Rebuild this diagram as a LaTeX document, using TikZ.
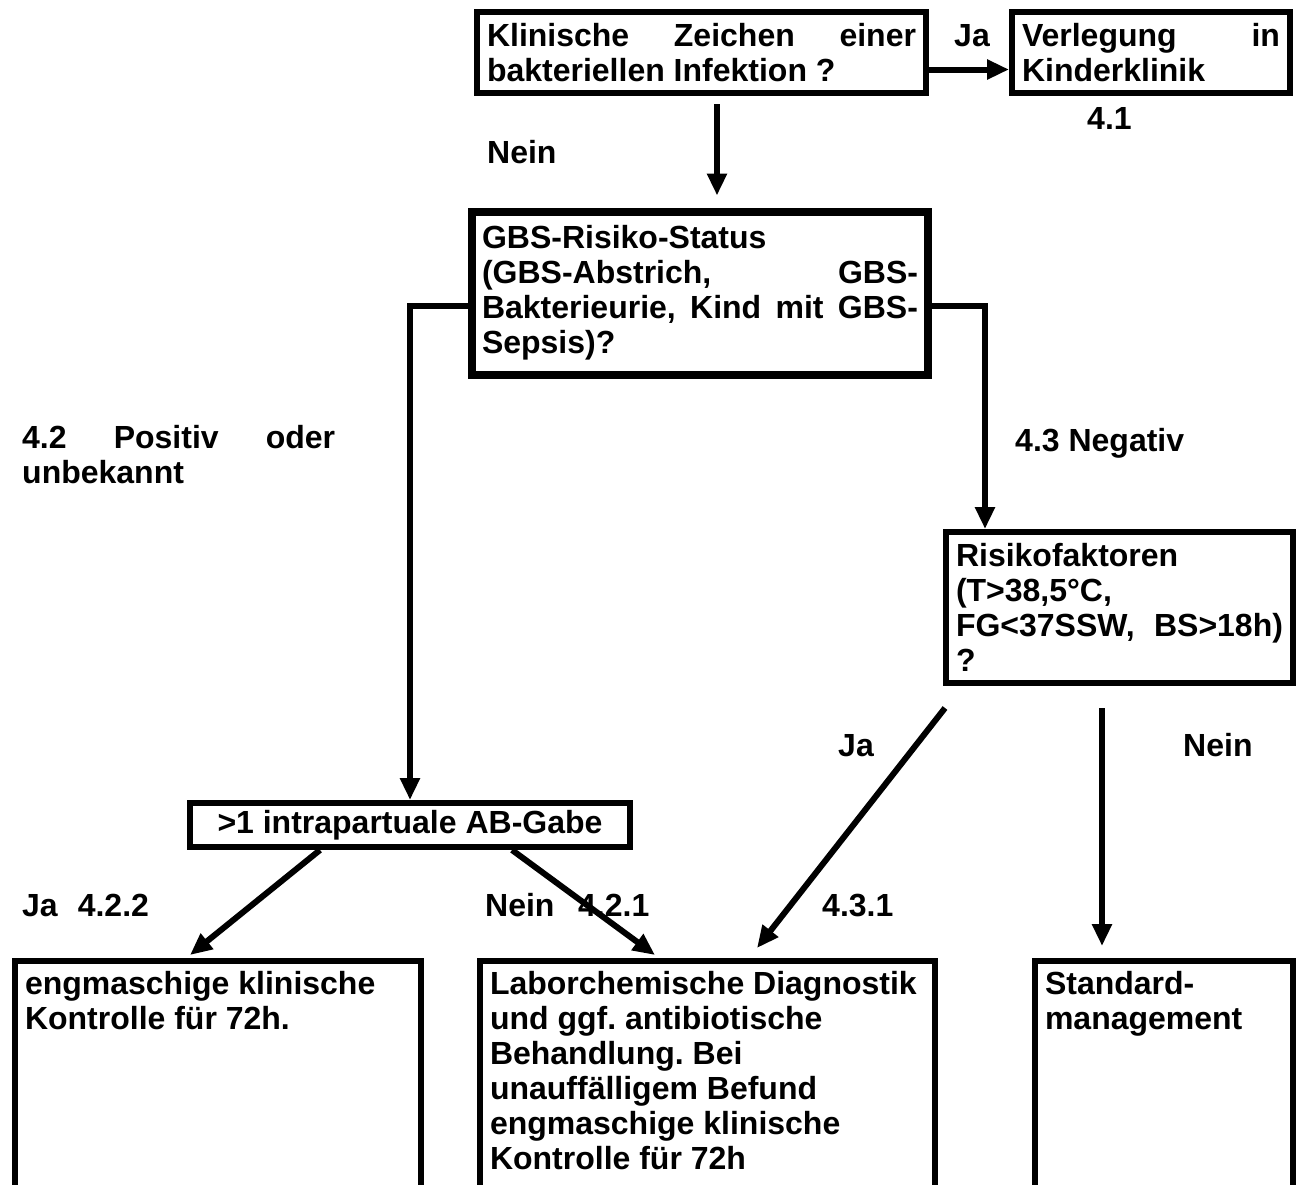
\documentclass[tikz,border=0pt]{standalone}
\usepackage{fontspec}
\setmainfont{Liberation Sans}
\usetikzlibrary{arrows.meta,calc,shadows}
\frenchspacing
\begin{document}
\begin{tikzpicture}[x=1pt,y=-1pt,
  every node/.style={font=\fontsize{32}{35}\selectfont\bfseries},
  box/.style={draw, line width=6pt, inner xsep=10pt, inner ysep=0pt},
  arr/.style={line width=6pt, -{Triangle[length=22pt,width=19pt]}},
  lbl/.style={anchor=base west, inner sep=0pt}]
\useasboundingbox[fill=white] (0,0) rectangle (1296,1184);

% boxes
\node[box, text width=429pt, minimum height=81pt, align=justify] (q1) at (701.5,52.5)
  {Klinische Zeichen einer\linebreak bakteriellen Infektion ?};
\node[box, text width=258pt, minimum height=81pt, align=justify] (kk) at (1151,52.5)
  {Verlegung in\linebreak Kinderklinik};
\node[box, line width=8pt, fill=white, drop shadow={shadow xshift=4pt, shadow yshift=-4pt, fill=black, opacity=1},
  text width=436pt, minimum height=163pt, align=justify] (gbs) at (700,293)
  {GBS-Risiko-Status\\(GBS-Abstrich, GBS-\linebreak Bakterieurie, Kind mit GBS-\linebreak Sepsis)?};
\node[box, text width=327pt, minimum height=151pt, align=justify] (rf) at (1119.5,607.5)
  {Risikofaktoren\linebreak (T>38,5°C,\linebreak FG<37SSW, BS>18h)\linebreak ?};
\node[box, minimum width=440pt, minimum height=44pt, inner sep=0pt] (ab) at (410,825)
  {>1 intrapartuale AB-Gabe};

\node[box, anchor=north west, inner xsep=10pt, inner ysep=10pt] (c1) at (12,958)
  {\parbox[t][250pt][t]{386pt}{\raggedright engmaschige klinische\\Kontrolle für 72h.}};
\node[box, anchor=north west, inner xsep=10pt, inner ysep=10pt] (c2) at (477,958)
  {\parbox[t][250pt][t]{435pt}{\raggedright Laborchemische Diagnostik\\und ggf. antibiotische\\Behandlung. Bei\\unauffälligem Befund\\engmaschige klinische\\Kontrolle für 72h}};
\node[box, anchor=north west, inner xsep=10pt, inner ysep=10pt] (c3) at (1032,958)
  {\parbox[t][250pt][t]{238pt}{\raggedright Standard-\\management}};

% connectors
\draw[arr] ($(q1.east)+(0,17)$) -- ($(kk.west)+(0,17)$);
\draw[arr] ($(q1.south)+(15.5,8)$) -- ($(gbs.north)+(17,-12)$);
\draw[arr] ($(gbs.west)+(0,13)$) -| (ab.north);
\draw[arr] ($(gbs.east)+(0,13)$) -| ($(rf.north)+(-134.5,0)$);
\draw[arr] ($(rf.south west)+(2,22)$) -- ($(c2.north west)+(280,-10)$);
\draw[arr] ($(rf.south)+(-17.5,22)$) -- ($(c3.north west)+(70,-12)$);
\draw[arr] ($(ab.south west)+(133,0)$) -- ($(c1.north west)+(178,-3)$);
\draw[arr] ($(ab.south west)+(325,0)$) -- ($(c2.north west)+(178,-3)$);

% labels
\node[lbl] (lja) at (954,46) {Ja};
\node[lbl] (l41) at (1087,129) {4.1};
\node[lbl] (lnein) at (487,163) {Nein};
\node[lbl, anchor=north west, text width=313pt, align=justify] (l42) at (22,425) {4.2 Positiv oder\linebreak unbekannt};
\node[lbl] (l43) at (1015,451) {4.3 Negativ};
\node[lbl] (lja2) at (838,756) {Ja};
\node[lbl] (lnein2) at (1183,756) {Nein};
\node[lbl] (l422) at (22,916) {Ja\hspace{20pt}4.2.2};
\node[lbl] (lnein3) at (485,916) {Nein};
\node[lbl] (l421) at (578,916) {4.2.1};
\node[lbl] (l431) at (822,916) {4.3.1};
\end{tikzpicture}
\end{document}
